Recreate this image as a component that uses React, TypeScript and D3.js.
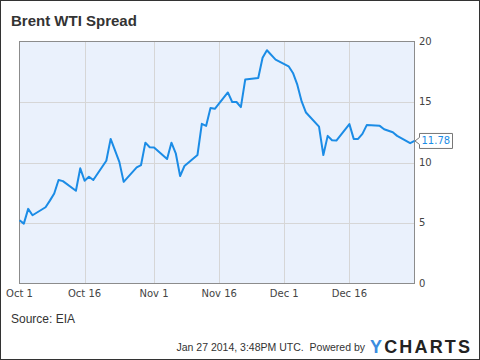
import React from "react";
import * as d3 from "d3";

const dates = [
  "2013-10-01", "2013-10-02", "2013-10-03", "2013-10-04", "2013-10-07", "2013-10-08",
  "2013-10-09", "2013-10-10", "2013-10-11", "2013-10-14", "2013-10-15", "2013-10-16",
  "2013-10-17", "2013-10-18", "2013-10-21", "2013-10-22", "2013-10-23", "2013-10-24",
  "2013-10-25", "2013-10-28", "2013-10-29", "2013-10-30", "2013-10-31", "2013-11-01",
  "2013-11-04", "2013-11-05", "2013-11-06", "2013-11-07", "2013-11-08", "2013-11-11",
  "2013-11-12", "2013-11-13", "2013-11-14", "2013-11-15", "2013-11-18", "2013-11-19",
  "2013-11-20", "2013-11-21", "2013-11-22", "2013-11-25", "2013-11-26", "2013-11-27",
  "2013-11-29", "2013-12-02", "2013-12-03", "2013-12-04", "2013-12-05", "2013-12-06",
  "2013-12-09", "2013-12-10", "2013-12-11", "2013-12-12", "2013-12-13", "2013-12-16",
  "2013-12-17", "2013-12-18", "2013-12-19", "2013-12-20", "2013-12-23", "2013-12-24",
  "2013-12-26", "2013-12-27", "2013-12-30", "2013-12-31",
];

const spread = [
  5.23, 4.95, 6.17, 5.64, 6.3, 6.85,
  7.44, 8.55, 8.46, 7.66, 9.52, 8.49,
  8.82, 8.55, 10.15, 11.95, 11.0, 10.05,
  8.4, 9.6, 9.79, 11.64, 11.26, 11.23,
  10.29, 11.64, 10.76, 8.88, 9.71, 10.62,
  13.2, 13.03, 14.5, 14.44, 15.79, 15.0,
  15.0, 14.58, 16.85, 16.99, 18.65, 19.28,
  18.5, 17.95, 17.4, 16.43, 15.05, 14.13,
  12.97, 10.62, 12.2, 11.84, 11.81, 13.17,
  11.95, 11.95, 12.37, 13.09, 13.03, 12.75,
  12.5, 12.2, 11.6, 11.78,
];

const xTickDates = ["2013-10-01", "2013-10-16", "2013-11-01", "2013-11-16", "2013-12-01", "2013-12-16"];
const xTickLabels = ["Oct 1", "Oct 16", "Nov 1", "Nov 16", "Dec 1", "Dec 16"];
const yTicks = [0, 5, 10, 15, 20];

const parse = d3.utcParse("%Y-%m-%d");

export default function App() {
  const W = 480;
  const H = 360;
  const left = 19.5;
  const right = 414.5;
  const top = 41.5;
  const bottom = 283.5;

  const x = d3
    .scaleUtc()
    .domain([parse("2013-10-01")!, parse("2013-12-31")!])
    .range([left, right]);
  const y = d3.scaleLinear().domain([0, 20]).range([bottom, top]);

  const points = dates.map((d, i) => ({ date: parse(d)!, value: spread[i] }));
  const line = d3
    .line<{ date: Date; value: number }>()
    .x((d) => x(d.date))
    .y((d) => y(d.value));

  const last = points[points.length - 1];
  const lx = x(last.date);
  const ly = y(last.value);
  const bx = 419;

  const axisFont = "DejaVu Sans, sans-serif";

  return (
    <svg width={W} height={H} style={{ position: "absolute", left: 0, top: 0, background: "#fff" }}>
      <rect x={0.5} y={0.5} width={W - 1} height={H - 1} fill="#fff" stroke="#333" />

      <text x={11} y={26} fontFamily="Liberation Sans, Arial, sans-serif" fontWeight="bold" fontSize={15} fill="#333">
        Brent WTI Spread
      </text>

      <rect x={left} y={top} width={right - left} height={bottom - top} fill="#eaf1fc" />

      {yTicks.slice(1, -1).map((t) => (
        <line key={"gy" + t} x1={left} x2={right} y1={Math.round(y(t)) + 0.5} y2={Math.round(y(t)) + 0.5} stroke="#d6d6d6" />
      ))}
      {xTickDates.slice(1).map((d) => {
        const px = Math.round(x(parse(d)!)) + 0.5;
        return <line key={"gx" + d} x1={px} x2={px} y1={top} y2={bottom} stroke="#d6d6d6" />;
      })}

      <rect x={left} y={top} width={right - left} height={bottom - top} fill="none" stroke="#8c8c8c" />

      <path d={line(points) ?? ""} fill="none" stroke="#1b8ce6" strokeWidth={2} strokeLinejoin="round" />

      {xTickDates.map((d, i) => (
        <text key={"xt" + d} x={x(parse(d)!)} y={297} textAnchor="middle" fontFamily={axisFont} fontSize={10} fill="#444">
          {xTickLabels[i]}
        </text>
      ))}

      {yTicks.map((t) => (
        <text key={"yt" + t} x={419} y={y(t)} dominantBaseline="middle" fontFamily={axisFont} fontSize={10} fill="#444">
          {t}
        </text>
      ))}

      <path
        d={`M452.5,${ly - 7.5} H${bx + 0.5} V${ly - 3.5} L${lx + 0.5},${ly} L${bx + 0.5},${ly + 3.5} V${ly + 7.5} H452.5 Z`}
        fill="#fff"
        stroke="#777"
      />
      <text x={bx + 2.5} y={ly} dominantBaseline="middle" fontFamily={axisFont} fontSize={10} fill="#1b8ce6">
        {last.value.toFixed(2)}
      </text>

      <text x={11} y={323} fontFamily="Liberation Sans, Arial, sans-serif" fontSize={12} fill="#333">
        Source: EIA
      </text>
      <text x={365} y={351} textAnchor="end" fontFamily="Liberation Sans, Arial, sans-serif" fontSize={10.5} fill="#333" style={{ whiteSpace: "pre" }}>
        {"Jan 27 2014, 3:48PM UTC.  Powered by"}
      </text>
      <text x={370} y={353} fontFamily="Liberation Sans, Arial, sans-serif" fontWeight="bold" fontSize={18} textLength={100} lengthAdjust="spacing">
        <tspan fill="#3b8de0">Y</tspan>
        <tspan fill="#222">CHARTS</tspan>
      </text>
    </svg>
  );
}
